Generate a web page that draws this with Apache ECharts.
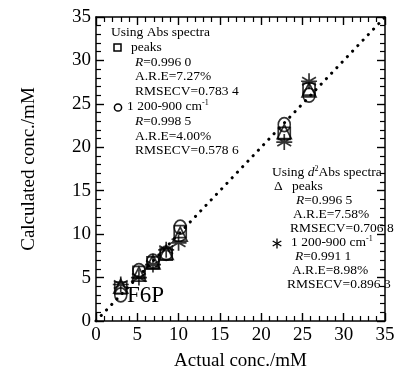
<!DOCTYPE html>
<html><head><meta charset="utf-8">
<script src="https://cdn.jsdelivr.net/npm/echarts@6/dist/echarts.min.js"></script>
<style>html,body{margin:0;padding:0;background:#fff}#c{width:400px;height:376px}</style>
</head><body><div id="c"></div>
<script>
var xTicks = [0,5,10,15,20,25,30,35];
var yTicks = [0,5,10,15,20,25,30,35];
var absPeaks   = [[3,3.8],[5.2,5.6],[6.9,6.7],[8.5,7.7],[10.2,10.3],[22.8,21.6],[25.8,26.7]];
var absRange   = [[3,3.0],[5.2,5.8],[6.9,6.9],[8.5,7.8],[10.2,10.8],[22.8,22.6],[25.8,26.0]];
var d2Peaks    = [[3,4.0],[5.2,5.4],[6.9,6.8],[8.5,7.9],[10.2,10.0],[22.8,21.8],[25.8,26.6]];
var d2Range    = [[3,4.2],[5.2,5.0],[6.9,6.5],[8.5,8.2],[10.0,9.0],[22.8,20.6],[25.8,27.6]];
var idealLine  = [[0,0],[35,35]];

var FONT = '"Liberation Serif","Times New Roman",serif';
var chart = echarts.init(document.getElementById('c'));
var star = 'path://M0,-10L0,10M-8.66,-5L8.66,5M-8.66,5L8.66,-5M-10,0L10,0';
function axisCommon(pos, show){
  return {
    type:'value', min:0, max:35, interval:5, position:pos, z:5,
    axisLine:{show:true,onZero:false,lineStyle:{color:'#000',width:1.5,type:'solid'}},
    axisTick:{show:true,inside:true,length:8,lineStyle:{color:'#000',width:1.4,type:'solid'}},
    minorTick:{show:true,splitNumber:5,length:5,lineStyle:{color:'#000',width:1.2,type:'solid'}},
    splitLine:{show:false},
    axisLabel:{show:show,color:'#000',fontFamily:FONT,fontSize:19,margin:5}
  };
}
var xa = axisCommon('bottom', true);
xa.name='Actual conc./mM'; xa.nameLocation='middle'; xa.nameGap=31;
xa.nameTextStyle={color:'#000',fontFamily:FONT,fontSize:19};
xa.axisLabel.formatter=function(v){return xTicks.indexOf(v)>=0?String(v):'';};
var xb = axisCommon('top', false);
var ya = axisCommon('left', true);
ya.name='Calculated conc./mM'; ya.nameLocation='middle'; ya.nameGap=57;
ya.nameTextStyle={color:'#000',fontFamily:FONT,fontSize:19};
ya.axisLabel.formatter=function(v){return yTicks.indexOf(v)>=0?String(v):'';};
var yb = axisCommon('right', false);

var FS = 13.5;
var rich = {
  n:{fontFamily:FONT,fontSize:FS,color:'#000'},
  i:{fontFamily:FONT,fontSize:FS,color:'#000',fontStyle:'italic'},
  s:{fontFamily:FONT,fontSize:8,color:'#000',verticalAlign:'top',padding:[0,0,6,0]}
};
function T(x,y,txt){
  return {type:'text',left:x,top:y-8,style:{text:txt,rich:rich,font:FS+'px '+FONT,fill:'#000'}};
}
var L1=[33,48,63,77,92,107,122,137,151];
var L2=[173,187,201,215,229,243,257,271,285];
var graphics = [
  T(111,L1[0],'{n|Using Abs spectra}'),
  {type:'rect',shape:{x:114,y:L1[1]-4,width:7,height:7},style:{fill:'#fff',stroke:'#000',lineWidth:1.5}},
  T(131,L1[1],'{n|peaks}'),
  T(135,L1[2],'{i|R}{n|=0.996 0}'),
  T(135,L1[3],'{n|A.R.E=7.27%}'),
  T(135,L1[4],'{n|RMSECV=0.783 4}'),
  {type:'circle',shape:{cx:118,cy:L1[5]+0.5,r:3.6},style:{fill:'#fff',stroke:'#000',lineWidth:1.5}},
  T(127,L1[5],'{n|1 200-900 cm}{s|-1}'),
  T(135,L1[6],'{i|R}{n|=0.998 5}'),
  T(135,L1[7],'{n|A.R.E=4.00%}'),
  T(135,L1[8],'{n|RMSECV=0.578 6}'),

  T(272,L2[0],'{n|Using }{i|d}{s|2}{n|Abs spectra}'),
  T(274,L2[1],'{n|Δ}'),
  T(292,L2[1],'{n|peaks}'),
  T(296,L2[2],'{i|R}{n|=0.996 5}'),
  T(293,L2[3],'{n|A.R.E=7.58%}'),
  T(290,L2[4],'{n|RMSECV=0.706 8}'),
  {type:'group',x:277,y:L2[5]+0.5,children:[
    {type:'line',shape:{x1:0,y1:-5,x2:0,y2:5},style:{stroke:'#000',lineWidth:1.3}},
    {type:'line',shape:{x1:-4.3,y1:-2.5,x2:4.3,y2:2.5},style:{stroke:'#000',lineWidth:1.3}},
    {type:'line',shape:{x1:-4.3,y1:2.5,x2:4.3,y2:-2.5},style:{stroke:'#000',lineWidth:1.3}}
  ]},
  T(291,L2[5],'{n|1 200-900 cm}{s|-1}'),
  T(295,L2[6],'{i|R}{n|=0.991 1}'),
  T(292,L2[7],'{n|A.R.E=8.98%}'),
  T(287,L2[8],'{n|RMSECV=0.896 3}'),
  {type:'text',left:127,top:284,style:{text:'F6P',font:'23px '+FONT,fill:'#000'}}
];

function sc(data,sym,size){
  return {type:'scatter',xAxisIndex:0,yAxisIndex:0,data:data,symbol:sym,symbolSize:size,
    itemStyle:{color:'rgba(255,255,255,0)',borderColor:'#000',borderWidth:1.7},z:3};
}
chart.setOption({
  animation:false,
  grid:{left:96,right:15,top:17,bottom:50},
  xAxis:[xa,xb], yAxis:[ya,yb],
  series:[
    {type:'line',data:idealLine,symbol:'none',showSymbol:false,
     lineStyle:{color:'#000',width:3,type:[0.1,7.5],cap:'round'},z:1},
    sc(absPeaks,'rect',12),
    sc(absRange,'circle',[12,14]),
    sc(d2Peaks,'triangle',14),
    sc(d2Range,star,16)
  ],
  graphic:graphics
});
</script></body></html>
